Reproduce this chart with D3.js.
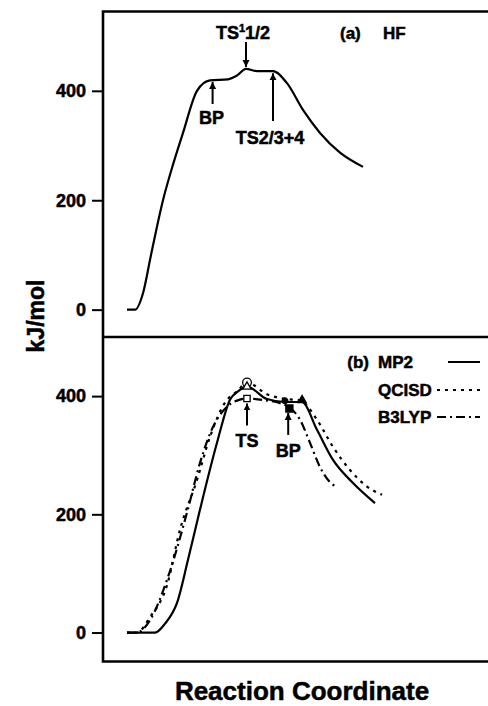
<!DOCTYPE html>
<html>
<head>
<meta charset="utf-8">
<script src="https://cdn.jsdelivr.net/npm/d3@7"></script>
<style>
  body { margin: 0; background: #fff; }
  text { font-family: "Liberation Sans", Arial, sans-serif; font-weight: bold; fill: #000; stroke: #000; stroke-width: 0.5px; }
</style>
</head>
<body>
<div id="chart"></div>
<script>
// reaction coordinate (arbitrary units) and energies in kJ/mol
const hfX   = [6, 8, 10, 12, 15, 17.5, 20, 23.5, 26.75, 31.25, 33.5, 35.75, 38.5, 42.5, 46, 50, 54.25, 59.25, 65];
const hfY   = [0, 0, 30, 100, 200, 265, 323, 400, 419, 421, 428, 440, 436, 436, 414, 365, 323, 287, 261];

const mp2X  = [6, 13, 15.5, 18.5, 21.25, 24.25, 28.5, 31.75, 33.75, 36, 41, 45.5, 49.75, 53.5, 57.5, 62.5, 68];
const mp2Y  = [0, 0, 15, 50, 123, 208, 321, 394, 408, 416, 395, 390, 390, 343, 292, 253, 219];

const qciX  = [6, 8.5, 11.75, 16, 19.25, 23.5, 26.75, 30.5, 33.5, 36, 41, 46, 49.25, 53.5, 57.5, 61.75, 66, 69.75];
const qciY  = [0, 0, 26, 80, 174, 258, 331, 389, 408, 423, 403, 395, 393, 360, 314, 275, 247, 233];

const b3X   = [6, 8.5, 11.75, 16.25, 21, 24.25, 27.5, 31, 34.25, 36, 40.5, 44.25, 46.75, 49.25, 51.75, 54.25, 57.5, 58.5];
const b3Y   = [0, 0, 21, 94, 203, 287, 348, 382, 394, 396, 393, 388, 380, 360, 321, 280, 250, 247];

// stationary point markers (panel b)
const markerX     = [36, 36, 36, 45.5, 46.6, 49.75];
const markerY     = [423, 416, 396, 392, 379, 393];
const markerShape = ["circle", "triangle", "square", "circle", "square", "triangle"];
const markerFill  = ["open", "open", "open", "filled", "filled", "filled"];

// annotations
const topLabels = ["TS¹1/2", "BP", "TS2/3+4"];
const topX      = [35.75, 27.4, 42.5];
const topY      = [440, 420, 436];
const botLabels = ["TS", "BP"];
const botX      = [36, 46.3];
const botY      = [396, 380];

const yTicks = [0, 200, 400];
const seriesNames = ["MP2", "QCISD", "B3LYP"];

const W = 488, H = 706;
const svg = d3.select("#chart").append("svg")
  .attr("width", W).attr("height", H);

const x = d3.scaleLinear().domain([0, 100]).range([103, 503]);
const yTop = d3.scaleLinear().domain([-50, 545]).range([337, 11.5]);
const yBot = d3.scaleLinear().domain([-49, 500]).range([661.5, 337]);

const dashes = { MP2: null, QCISD: "3,5", B3LYP: "9,4,2,4" };

// arrow head
svg.append("defs").append("marker")
  .attr("id", "head")
  .attr("viewBox", "0 0 10 10")
  .attr("refX", 10).attr("refY", 5)
  .attr("markerWidth", 7).attr("markerHeight", 10)
  .attr("markerUnits", "userSpaceOnUse")
  .attr("orient", "auto")
  .append("path").attr("d", "M0,0 L10,5 L0,10 Z").attr("fill", "#000");

// axes
function leftAxis(scale) {
  const g = svg.append("g")
    .attr("transform", "translate(103,0)")
    .call(d3.axisLeft(scale).tickValues(yTicks).tickSize(11).tickPadding(6));
  g.select(".domain").remove();
  g.selectAll(".tick line").attr("stroke", "#000").attr("stroke-width", 2);
  g.selectAll(".tick text")
    .style("font-family", '"Liberation Sans", Arial, sans-serif')
    .style("font-weight", "bold")
    .style("font-size", "18px");
}
leftAxis(yTop);
leftAxis(yBot);

// frame
const frame = svg.append("g").attr("fill", "none").attr("stroke", "#000").attr("stroke-width", 2.6);
frame.append("path").attr("d", `M${W + 5},${yTop.range()[1]} H103 V${yBot.range()[0]} H${W + 5}`);
frame.append("path").attr("d", `M103,${yTop.range()[0]} H${W + 5}`);

// curves
const line = (ys) => d3.line().curve(d3.curveMonotoneX).x(d => x(d[0])).y(d => ys(d[1]));

svg.append("path")
  .datum(d3.zip(hfX, hfY))
  .attr("d", line(yTop))
  .attr("fill", "none").attr("stroke", "#000").attr("stroke-width", 2.2);

const series = [
  { name: "MP2", xs: mp2X, ys: mp2Y },
  { name: "QCISD", xs: qciX, ys: qciY },
  { name: "B3LYP", xs: b3X, ys: b3Y }
];
series.forEach(s => {
  svg.append("path")
    .datum(d3.zip(s.xs, s.ys))
    .attr("d", line(yBot))
    .attr("fill", "none").attr("stroke", "#000").attr("stroke-width", 2.2)
    .attr("stroke-dasharray", dashes[s.name]);
});

// markers
const markers = svg.append("g");
markerX.forEach((mx, i) => {
  const cx = x(mx), cy = yBot(markerY[i]);
  const fill = markerFill[i] === "open" ? "#fff" : "#000";
  let sym;
  if (markerShape[i] === "circle") sym = d3.symbol(d3.symbolCircle, markerFill[i] === "open" ? 60 : 25);
  else if (markerShape[i] === "triangle") sym = d3.symbol(d3.symbolTriangle, 30);
  else sym = d3.symbol(d3.symbolSquare, markerFill[i] === "open" ? 40 : 50);
  markers.append("path")
    .attr("d", sym())
    .attr("transform", `translate(${cx},${cy})`)
    .attr("fill", fill).attr("stroke", "#000").attr("stroke-width", 1.3);
});

// panel a annotations
const topArrow = [
  { from: 42, dir: "down", textY: 39 },
  { from: 104, dir: "up", textY: 124 },
  { from: 121, dir: "up", textY: 144 }
];
topLabels.forEach((lab, i) => {
  const ax = x(topX[i]);
  const tipY = yTop(topY[i]) + (topArrow[i].dir === "down" ? -2 : 2);
  svg.append("line")
    .attr("x1", ax).attr("x2", ax)
    .attr("y1", topArrow[i].from).attr("y2", tipY)
    .attr("stroke", "#000").attr("stroke-width", 2)
    .attr("marker-end", "url(#head)");
  const t = svg.append("text")
    .attr("x", ax + (i === 0 ? -3 : i === 1 ? -1 : -3)).attr("y", topArrow[i].textY)
    .attr("text-anchor", "middle").style("font-size", "18px");
  if (lab.includes("¹")) {
    const parts = lab.split("¹");
    t.append("tspan").text(parts[0]);
    t.append("tspan").attr("dy", -7).style("font-size", "11px").text("1");
    t.append("tspan").attr("dy", 7).text(parts[1]);
  } else {
    t.text(lab);
  }
});

svg.append("text").attr("x", 340).attr("y", 39).style("font-size", "17px").text("(a)");
svg.append("text").attr("x", 383).attr("y", 39).style("font-size", "17px").text("HF");

// panel b annotations
const botArrow = [
  { len: 22, textY: 447 },
  { len: 22, textY: 457 }
];
botLabels.forEach((lab, i) => {
  const ax = x(botX[i]);
  const tipY = yBot(botY[i]) + 5;
  svg.append("line")
    .attr("x1", ax).attr("x2", ax)
    .attr("y1", tipY + botArrow[i].len).attr("y2", tipY)
    .attr("stroke", "#000").attr("stroke-width", 2)
    .attr("marker-end", "url(#head)");
  svg.append("text")
    .attr("x", ax).attr("y", botArrow[i].textY)
    .attr("text-anchor", "middle").style("font-size", "18px")
    .text(lab);
});

// legend
const legY = [362, 390, 417];
svg.append("text").attr("x", 369).attr("y", legY[0] + 6)
  .attr("text-anchor", "end").style("font-size", "17px").text("(b)");
seriesNames.forEach((name, i) => {
  svg.append("text").attr("x", 378).attr("y", legY[i] + 6)
    .style("font-size", "17px").text(name);
  svg.append("line")
    .attr("x1", i === 0 ? 448 : 437).attr("x2", 480)
    .attr("y1", legY[i]).attr("y2", legY[i])
    .attr("stroke", "#000").attr("stroke-width", 2)
    .attr("stroke-dasharray", dashes[name]);
});

// axis titles
svg.append("text")
  .attr("transform", "translate(44,316) rotate(-90)")
  .attr("text-anchor", "middle").style("font-size", "23px")
  .text("kJ/mol");

svg.append("text")
  .attr("x", 302).attr("y", 700)
  .attr("text-anchor", "middle").style("font-size", "26px")
  .text("Reaction Coordinate");
</script>
</body>
</html>
